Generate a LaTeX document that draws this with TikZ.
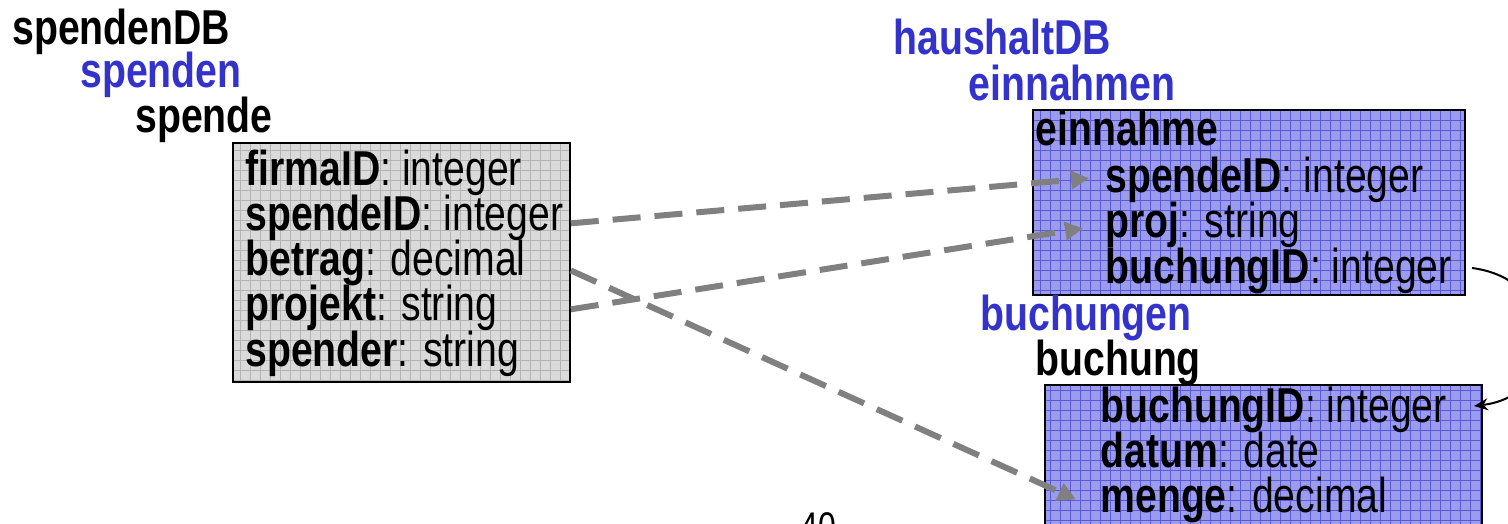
\documentclass[tikz,border=0pt]{standalone}
\usepackage{fontspec}
\setmainfont{Liberation Sans}[FakeStretch=0.8]
\usetikzlibrary{arrows.meta,calc}
\definecolor{hblue}{HTML}{3333CC}
\definecolor{gfill}{HTML}{DADADA}
\definecolor{ggrid}{HTML}{B4B4B4}
\definecolor{bfill}{HTML}{9C9CEC}
\definecolor{bgrid}{HTML}{5A5AD8}
\definecolor{arrgray}{HTML}{808080}
\tikzset{
  lbl/.style={anchor=base west, inner sep=0pt, font=\fontsize{24.5}{23}\selectfont\bfseries},
  row/.style={anchor=base west, inner sep=0pt, font=\fontsize{24.5}{23}\selectfont},
  link/.style={draw=arrgray, line width=3pt, dash pattern=on 14pt off 7pt,
    -{Triangle[length=9pt,width=9pt,fill=arrgray]}},
  ref/.style={draw=black, line width=1pt, -{Stealth[length=7pt,width=6pt]}},
}
\begin{document}
\begin{tikzpicture}[x=0.5pt,y=-0.5pt]
\useasboundingbox (0,0) rectangle (1508,524);
\clip (0,0) rectangle (1508,524);
\fill[white] (0,0) rectangle (1508,524);

% left headings
\node[lbl] (sdb) at (12,45) {spendenDB};
\node[lbl,text=hblue] (sp) at (80,88) {spenden};
\node[lbl] (spe) at (135,133) {spende};

% gray box
\node[fill=gfill, minimum width=168.5pt, minimum height=119.5pt, anchor=north west, inner sep=0pt] (sbox) at (233,143) {};
\begin{scope}
  \clip (233,143) rectangle (570,382);
  \draw[ggrid, line width=0.4pt, step=5pt] (233,143) grid (570,382);
\end{scope}
\draw[black, line width=1pt] (233,143) rectangle (570,382);
\node[row] (s1) at (245,185) {\textbf{firmaID}: integer};
\node[row] (s2) at (245,230) {\textbf{spendeID}: integer};
\node[row] (s3) at (245,275) {\textbf{betrag}: decimal};
\node[row] (s4) at (245,320) {\textbf{projekt}: string};
\node[row] (s5) at (245,366) {\textbf{spender}: string};

% right headings
\node[lbl,text=hblue] (hdb) at (893,55) {haushaltDB};
\node[lbl,text=hblue] (ein) at (968,100) {einnahmen};

% einnahme box
\node[fill=bfill, minimum width=216pt, minimum height=92.5pt, anchor=north west, inner sep=0pt] (ebox) at (1033,110) {};
\begin{scope}
  \clip (1033,110) rectangle (1465,295);
  \draw[bgrid, line width=0.4pt, step=5pt] (1033,110) grid (1465,295);
\end{scope}
\draw[black, line width=1pt] (1033,110) rectangle (1465,295);
\node[lbl] (eh) at (1035,145) {einnahme};
\node[row] (e1) at (1105,192) {\textbf{spendeID}: integer};
\node[row] (e2) at (1105,237) {\textbf{proj}: string};
\node[row] (e3) at (1105,283) {\textbf{buchungID}: integer};

% buchungen
\node[lbl,text=hblue] (buc) at (980,330) {buchungen};
\node[lbl] (bh) at (1035,375) {buchung};
\node[fill=bfill, minimum width=218.5pt, minimum height=80pt, anchor=north west, inner sep=0pt] (bbox) at (1045,385) {};
\begin{scope}
  \clip (1045,385) rectangle (1482,545);
  \draw[bgrid, line width=0.4pt, step=5pt] (1045,385) grid (1482,545);
\end{scope}
\draw[black, line width=1pt] (1045,545) -- (1045,385) -- (1482,385) -- (1482,545);
\node[row] (b1) at (1100,422) {\textbf{buchungID}: integer};
\node[row] (b2) at (1100,467) {\textbf{datum}: date};
\node[row] (b3) at (1100,512) {\textbf{menge}: decimal};

% page number (cut off at the lower edge, as in the reference)
\node[row, font=\fontsize{20}{20}\selectfont] (pg) at (800,540) {40};

% links
\draw[link] ([yshift=-3pt]sbox.east |- s2.east) -- ([xshift=-8pt,yshift=0.5pt]e1.west);
\draw[link] ([yshift=-1pt]sbox.east |- s4.east) -- ([xshift=-11pt,yshift=-2pt]e2.west);
\draw[link] ([yshift=-4pt]sbox.east |- s3.east) -- ([xshift=-12pt]b3.west);

% reference arrow
\coordinate (c1) at (1472,268);
\coordinate (c2) at (1474,406);
\draw[ref] (c1) .. controls (1565,280) and (1565,395) .. (c2);
\end{tikzpicture}
\end{document}
